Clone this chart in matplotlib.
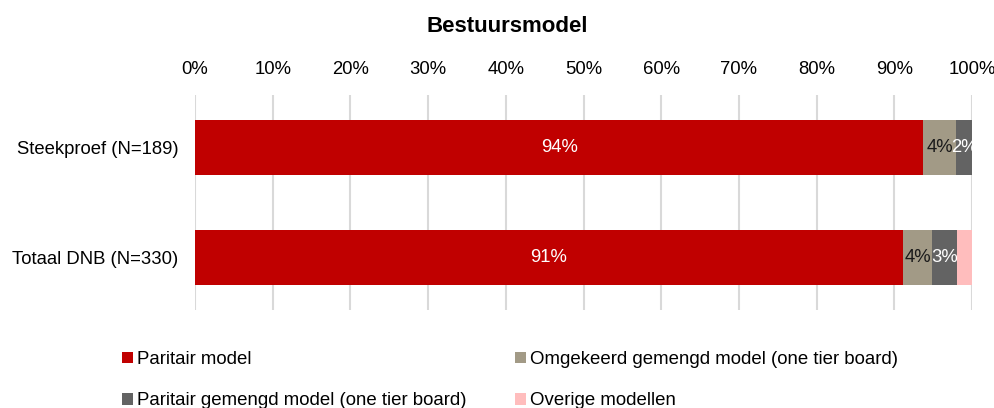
import matplotlib.pyplot as plt
import numpy as np

plt.rcParams["font.family"] = ["Liberation Sans", "DejaVu Sans"]

rows = ["Steekproef (N=189)", "Totaal DNB (N=330)"]
series = [
    "Paritair model",
    "Omgekeerd gemengd model (one tier board)",
    "Paritair gemengd model (one tier board)",
    "Overige modellen",
]
paritair = [93.7, 91.1]
omgekeerd = [4.2, 3.8]
paritair_gemengd = [2.1, 3.2]
overige = [0.0, 1.9]
labels = [["94%", "91%"], ["4%", "4%"], ["2%", "3%"], ["", ""]]

colors = ["#C00000", "#A29A86", "#636363", "#FFBDBD"]
text_colors = ["white", "#1a1a1a", "white", "white"]
ticks = np.arange(0, 101, 10)

fig = plt.figure(figsize=(9.95, 4.08), dpi=100)
ax = fig.add_axes([0.196, 0.24, 0.781, 0.527])

y = np.arange(len(rows))
left = np.zeros(len(rows))
handles = []
for name, vals, col, lab, tc in zip(
    series, [paritair, omgekeerd, paritair_gemengd, overige], colors, labels, text_colors
):
    vals = np.array(vals)
    h = ax.barh(y, vals, left=left, height=0.5, color=col, label=name, zorder=3)
    handles.append(h)
    for yi, v, l0, txt in zip(y, vals, left, lab):
        if txt:
            ax.text(l0 + v / 2, yi, txt, ha="center", va="center",
                    color=tc, fontsize=13.3, zorder=4)
    left += vals

ax.set_xlim(0, 100)
ax.set_ylim(1.477, -0.477)
ax.set_yticks(y)
ax.set_yticklabels(rows, fontsize=13.3)
ax.set_xticks(ticks)
ax.set_xticklabels([f"{t}%" for t in ticks], fontsize=13.3)
ax.xaxis.tick_top()
ax.tick_params(length=0, pad=12)
ax.tick_params(axis="y", pad=12)
ax.grid(axis="x", color="#D9D9D9", linewidth=1.5, zorder=0)
for s in ax.spines.values():
    s.set_visible(False)

fig.text(0.51, 0.935, "Bestuursmodel", ha="center", va="center",
         fontsize=16, fontweight="bold")

# legend fills row-wise in the reference
order = [0, 2, 1, 3]
fig.legend([handles[i] for i in order], [series[i] for i in order],
           loc="upper left", bbox_to_anchor=(0.115, 0.158), ncol=2,
           frameon=False, fontsize=13.4, handlelength=0.6, handleheight=0.6,
           handletextpad=0.2, columnspacing=2.6, labelspacing=1.3,
           borderaxespad=0)

fig.savefig("out.png", dpi=100)
